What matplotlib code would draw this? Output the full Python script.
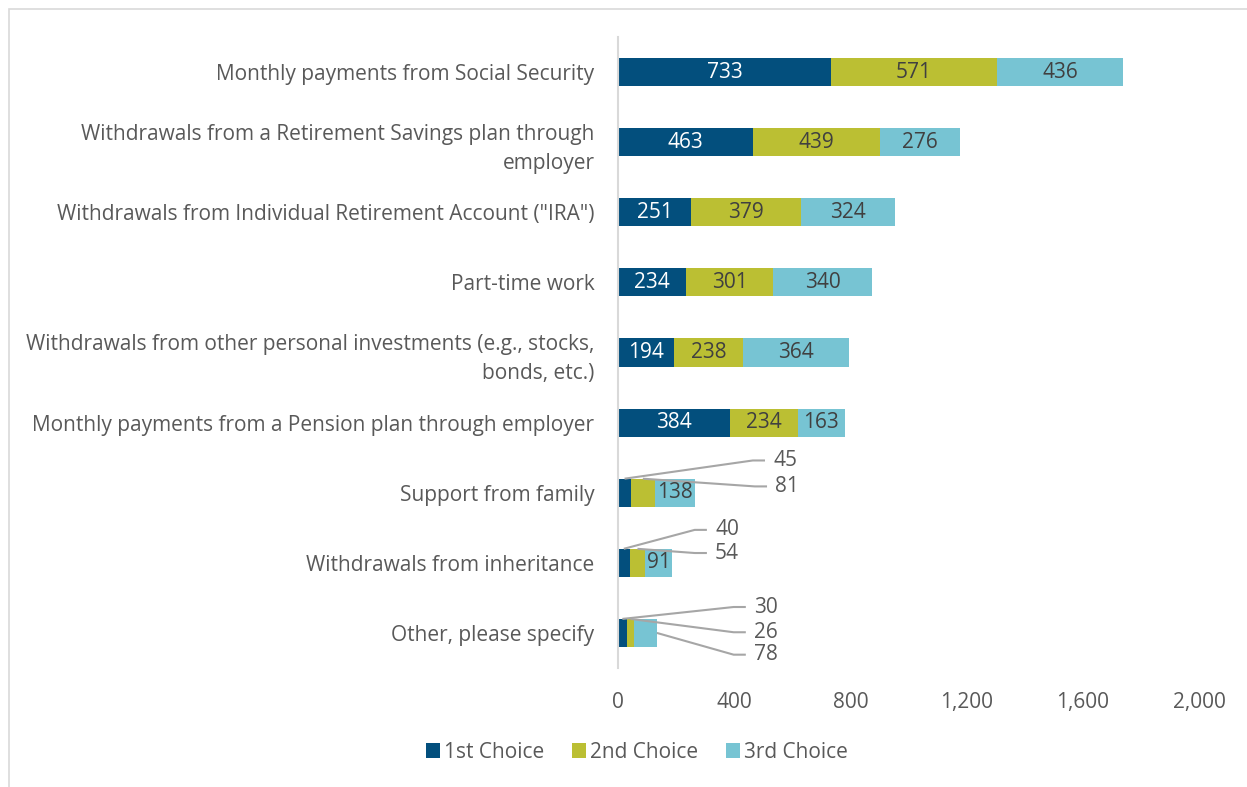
import matplotlib
matplotlib.use('Agg')
import matplotlib.pyplot as plt
from matplotlib.patches import Rectangle
from matplotlib.ticker import FuncFormatter
import numpy as np

plt.rcParams['font.family'] = ['Open Sans', 'DejaVu Sans']

categories = [
    "Monthly payments from Social Security",
    "Withdrawals from a Retirement Savings plan through\nemployer",
    "Withdrawals from Individual Retirement Account (\"IRA\")",
    "Part-time work",
    "Withdrawals from other personal investments (e.g., stocks,\nbonds, etc.)",
    "Monthly payments from a Pension plan through employer",
    "Support from family",
    "Withdrawals from inheritance",
    "Other, please specify",
]
first = [733, 463, 251, 234, 194, 384, 45, 40, 30]
second = [571, 439, 379, 301, 238, 234, 81, 54, 26]
third = [436, 276, 324, 340, 364, 163, 138, 91, 78]
series_names = ["1st Choice", "2nd Choice", "3rd Choice"]
xticks = [0, 400, 800, 1200, 1600, 2000]

colors = ["#034F7D", "#BBBF33", "#77C4D3"]
text_colors = ["white", "#404040", "#404040"]
grey = "#595959"
FS = 15

# callouts for segments too narrow to hold their label:
# (row, series, label x in data units, label y offset in rows)
callouts = [
    (6, 0, 534, -0.46), (6, 1, 541, -0.09),
    (7, 0, 334, -0.47), (7, 1, 334, -0.14),
    (8, 0, 468, -0.37), (8, 1, 468, -0.01), (8, 2, 468, 0.31),
]
called = {(r, s) for r, s, _, _ in callouts}

fig = plt.figure(figsize=(12.47, 7.87), dpi=100)
ax = fig.add_axes([618 / 1247, 1 - 668 / 787, 581 / 1247, 631 / 787])

y = np.arange(len(categories))
data = [first, second, third]
left = np.zeros(len(categories))
bar_h = 0.4
for i, vals in enumerate(data):
    vals = np.array(vals)
    ax.barh(y, vals, left=left, height=bar_h, color=colors[i],
            label=series_names[i], linewidth=0)
    for row, (l, v) in enumerate(zip(left, vals)):
        if (row, i) in called:
            continue
        ax.text(l + v / 2, row, f"{v}", ha='center', va='center',
                fontsize=FS, color=text_colors[i])
    left = left + vals

# leader lines for the small segments
lefts = np.cumsum([np.zeros(len(categories))] + [np.array(d) for d in data], axis=0)
for row, s, lx, dy in callouts:
    v = data[s][row]
    sx = lefts[s][row] + v / 2
    sy = row - bar_h / 2 if s < 2 else row
    if s == 2:
        sx = lefts[s][row] + v
    ly = row + dy
    ax.plot([sx, lx - 70, lx - 28], [sy, ly, ly], color="#A6A6A6",
            linewidth=1.5, solid_capstyle='butt', clip_on=False)
    ax.text(lx, ly, f"{v}", ha='left', va='center', fontsize=FS, color=grey)

ax.set_ylim(len(categories) - 0.5, -0.5)
ax.set_xlim(0, 2000)
ax.set_yticks(y)
ax.set_yticklabels(categories, fontsize=FS, color=grey, linespacing=1.5)
ax.set_xticks(xticks)
ax.xaxis.set_major_formatter(FuncFormatter(lambda v, p: f"{v:,.0f}"))
ax.tick_params(axis='x', colors=grey, labelsize=FS, length=0, pad=17)
ax.tick_params(axis='y', length=0, pad=17)
for lbl in ax.get_yticklabels():
    lbl.set_horizontalalignment('right')
    lbl.set_multialignment('right')
for side in ['top', 'right', 'bottom']:
    ax.spines[side].set_visible(False)
ax.spines['left'].set_color("#D9D9D9")
ax.spines['left'].set_linewidth(1.5)

fig.legend(loc='center', bbox_to_anchor=(637 / 1247, 1 - 752 / 787), ncol=3,
           frameon=False, fontsize=FS, handlelength=0.7, handleheight=0.7,
           columnspacing=1.3, handletextpad=0.2, labelcolor=grey)

# outer chart frame
fig.patches.append(Rectangle((9 / 1247, -0.1), 1.2, 1.1 - 8.5 / 787,
                             transform=fig.transFigure, fill=False,
                             edgecolor="#D9D9D9", linewidth=1.2))

plt.savefig("out.png", dpi=100)
plt.close()
